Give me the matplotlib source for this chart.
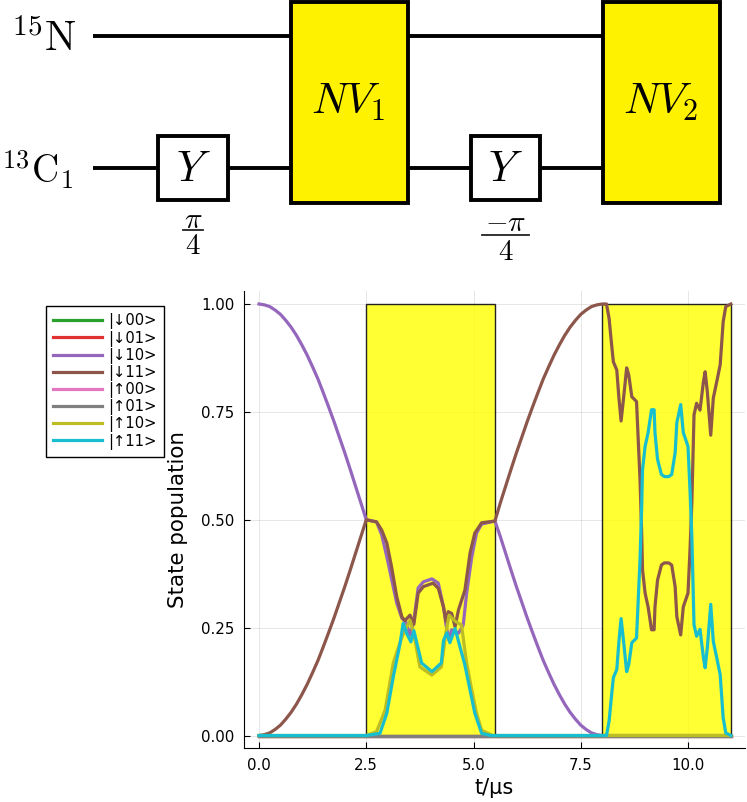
# -*- coding: utf-8 -*-
import matplotlib
matplotlib.use('Agg')
import matplotlib.pyplot as plt
from matplotlib.patches import Rectangle

#%% Values
t_edges = [0.0, 11.0]
zeros_edges = [0.0, 0.0]

t_rise = [0.0, 0.125, 0.25, 0.375, 0.5, 0.625, 0.75, 0.875, 1.0, 1.125, 1.25, 1.375, 1.5, 1.625, 1.75,
          1.875, 2.0, 2.125, 2.25, 2.375, 2.5]
purple_rise = [1.0, 0.998, 0.994, 0.986, 0.976, 0.962, 0.946, 0.927, 0.905, 0.881, 0.854, 0.826, 0.794,
               0.761, 0.727, 0.691, 0.655, 0.617, 0.578, 0.539, 0.5]
brown_rise = [0.0, 0.002, 0.006, 0.014, 0.024, 0.038, 0.054, 0.073, 0.095, 0.119, 0.146, 0.174, 0.206,
              0.239, 0.273, 0.309, 0.345, 0.383, 0.422, 0.461, 0.5]

t_brown_mid = [2.74, 2.86, 2.98, 3.09, 3.21, 3.33, 3.40, 3.52, 3.61, 3.71, 3.83, 4.06, 4.18,
               4.30, 4.36, 4.41, 4.49, 4.57, 4.65, 4.80, 4.92, 5.03, 5.19, 5.5]
brown_mid = [0.495, 0.476, 0.446, 0.391, 0.322, 0.275, 0.266, 0.279, 0.258, 0.33, 0.345, 0.353, 0.341,
             0.298, 0.264, 0.287, 0.283, 0.252, 0.291, 0.337, 0.423, 0.469, 0.493, 0.497]

t_purple_mid = [2.74, 2.86, 2.98, 3.21, 3.33, 3.43, 3.52, 3.60, 3.71, 3.83, 4.03, 4.18, 4.30,
                4.36, 4.43, 4.49, 4.65, 4.76, 4.84, 4.96, 5.07, 5.19, 5.5]
purple_mid = [0.495, 0.465, 0.414, 0.307, 0.272, 0.262, 0.233, 0.26, 0.342, 0.356, 0.363, 0.353, 0.298,
              0.256, 0.221, 0.245, 0.237, 0.256, 0.33, 0.414, 0.469, 0.49, 0.497]

t_fall = [5.625, 5.75, 5.875, 6.0, 6.125, 6.25, 6.375, 6.5, 6.625, 6.75, 6.875, 7.0, 7.125, 7.25, 7.375,
          7.5, 7.625, 7.75, 7.875, 8.0]
purple_fall = [0.461, 0.422, 0.383, 0.345, 0.309, 0.273, 0.239, 0.206, 0.174, 0.146, 0.119, 0.095, 0.073,
               0.054, 0.038, 0.024, 0.014, 0.006, 0.002, 0.0]
brown_fall = [0.539, 0.578, 0.617, 0.655, 0.691, 0.727, 0.761, 0.794, 0.826, 0.854, 0.881, 0.905, 0.927,
              0.946, 0.962, 0.976, 0.986, 0.994, 0.998, 1.0]

t_last = [8.10, 8.16, 8.22, 8.26, 8.34, 8.39, 8.44, 8.49, 8.57, 8.62, 8.69, 8.80, 8.84, 8.88, 8.92,
          8.94, 9.0, 9.07, 9.15, 9.21, 9.23, 9.29, 9.38, 9.45, 9.55, 9.62, 9.70, 9.74, 9.83, 9.89, 10.0,
          10.05, 10.09, 10.14, 10.2, 10.28, 10.36, 10.4, 10.45, 10.53, 10.59, 10.67, 10.75, 10.82, 10.88, 11.0]
brown_last = [1.0, 0.967, 0.905, 0.866, 0.847, 0.782, 0.729, 0.774, 0.852, 0.835, 0.785, 0.774, 0.685, 0.597, 0.47,
              0.384, 0.33, 0.298, 0.245, 0.245, 0.298, 0.36, 0.395, 0.4, 0.4, 0.395, 0.345, 0.275, 0.233, 0.298, 0.33,
              0.437, 0.54, 0.743, 0.77, 0.754, 0.82, 0.843, 0.797, 0.696, 0.782, 0.82, 0.859, 0.959, 0.994, 1.0]
cyan_last = [0.0, 0.033, 0.095, 0.134, 0.153, 0.218, 0.271, 0.226, 0.148, 0.165, 0.215, 0.226, 0.315, 0.403, 0.53,
             0.616, 0.67, 0.702, 0.755, 0.755, 0.702, 0.64, 0.605, 0.6, 0.6, 0.605, 0.655, 0.725, 0.767, 0.702, 0.67,
             0.563, 0.46, 0.257, 0.23, 0.246, 0.18, 0.157, 0.203, 0.304, 0.218, 0.18, 0.141, 0.041, 0.006, 0.0]

t_olive_mid = [2.5, 2.74, 2.94, 3.13, 3.33, 3.52, 3.60, 3.75, 4.03, 4.25, 4.36, 4.43, 4.57, 4.72,
               4.84, 4.96, 5.07, 5.19, 5.45, 8.0]
olive_mid = [0.0, 0.009, 0.059, 0.168, 0.228, 0.267, 0.24, 0.159, 0.14, 0.159, 0.24, 0.279, 0.265, 0.256,
             0.168, 0.105, 0.052, 0.012, 0.0, 0.0]

t_cyan_mid = [2.5, 2.82, 2.98, 3.13, 3.29, 3.36, 3.45, 3.54, 3.61, 3.79, 4.03, 4.25, 4.30, 4.38, 4.45,
              4.57, 4.80, 5.03, 5.19, 5.4, 8.0]
cyan_mid = [0.0, 0.005, 0.052, 0.136, 0.214, 0.26, 0.235, 0.217, 0.243, 0.168, 0.148, 0.168, 0.22, 0.238, 0.215,
            0.248, 0.163, 0.052, 0.005, 0.0, 0.0]

t_purple = t_rise + t_purple_mid + t_fall + [11.0]
purple = purple_rise + purple_mid + purple_fall + [0.0]
t_brown = t_rise + t_brown_mid + t_fall + t_last
brown = brown_rise + brown_mid + brown_fall + brown_last
t_olive = [0.0] + t_olive_mid + [11.0]
olive = [0.0] + olive_mid + [0.0]
t_cyan = [0.0] + t_cyan_mid + t_last
cyan = [0.0] + cyan_mid + cyan_last

labels = ['|↓00>', '|↓01>', '|↓10>', '|↓11>', '|↑00>', '|↑01>', '|↑10>', '|↑11>']
pulses = [(2.5, 5.5), (8.0, 11.0)]
x_ticks = [0.0, 2.5, 5.0, 7.5, 10.0]
x_ticklabels = ['0.0', '2.5', '5.0', '7.5', '10.0']
y_ticks = [0.0, 0.25, 0.5, 0.75, 1.0]
y_ticklabels = ['0.00', '0.25', '0.50', '0.75', '1.00']

#%% Figure
W, H = 747, 802
plt.rcParams['mathtext.fontset'] = 'cm'
fig = plt.figure(figsize=(W / 100, H / 100), dpi=100)

#%% Circuit on top, drawn in pixel coordinates
circ = fig.add_axes([0, 0, 1, 1])
circ.set_xlim(0, W)
circ.set_ylim(H, 0)
circ.axis('off')

LW = 2.8
circ.plot([93, 603], [36, 36], color='black', lw=LW, solid_capstyle='butt')
circ.plot([93, 603], [168, 168], color='black', lw=LW, solid_capstyle='butt')

for x0, x1, name in [(291, 408, '$NV_1$'), (603, 720, '$NV_2$')]:
    circ.add_patch(Rectangle((x0, 2), x1 - x0, 201, fc='#fff200', ec='black', lw=LW, zorder=3))
    circ.text((x0 + x1) / 2 - 1, 102, name, fontsize=31, ha='center', va='center', zorder=4)

for x0, x1 in [(158, 228), (471, 540)]:
    circ.add_patch(Rectangle((x0, 136), x1 - x0, 64, fc='white', ec='black', lw=LW, zorder=3))
    circ.text((x0 + x1) / 2, 169, '$Y$', fontsize=31, ha='center', va='center', zorder=4)

circ.text(77, 39, r'$^{15}\mathrm{N}$', fontsize=30, ha='right', va='center')
circ.text(73, 170, r'$^{13}\mathrm{C}_1$', fontsize=27, ha='right', va='center')

# gate angles, written as stacked fractions by hand to match the bar widths
circ.plot([183, 203], [230, 230], color='#222222', lw=1.3)
circ.text(193, 220, r'$\pi$', fontsize=21, ha='center', va='center')
circ.text(193, 246, r'$4$', fontsize=21, ha='center', va='center')
circ.plot([482, 529], [235, 235], color='#222222', lw=1.3)
circ.text(506, 223, r'$-\pi$', fontsize=21, ha='center', va='center')
circ.text(506, 252, r'$4$', fontsize=21, ha='center', va='center')

#%% Population plot
ax = fig.add_axes([244 / W, 1 - 748 / H, (745 - 244) / W, (748 - 291) / H])
ax.set_xlim((244 - 259) / 42.9, (745 - 259) / 42.9)
ax.set_ylim((735.5 - 748) / 431.5, (735.5 - 291) / 431.5)
ax.patch.set_alpha(0)

for t0, t1 in pulses:
    ax.add_patch(Rectangle((t0, 0), t1 - t0, 1, fc='#ffff00', alpha=0.8, ec='none', zorder=1))
    ax.add_patch(Rectangle((t0, 0), t1 - t0, 1, fc='none', ec='#222222', lw=1.0, zorder=1.5))

LINE = 2.3
ax.plot(t_edges, zeros_edges, color='#2ca02c', lw=LINE, label=labels[0], zorder=2)
ax.plot(t_edges, zeros_edges, color='#e03030', lw=LINE, label=labels[1], zorder=2)
ax.plot(t_purple, purple, color='#9467bd', lw=LINE, label=labels[2], zorder=2)
ax.plot(t_brown, brown, color='#8c564b', lw=LINE, label=labels[3], zorder=2)
ax.plot(t_edges, zeros_edges, color='#e377c2', lw=LINE, label=labels[4], zorder=2)
ax.plot(t_edges, zeros_edges, color='#7f7f7f', lw=LINE, label=labels[5], zorder=2)
ax.plot(t_olive, olive, color='#bcbd22', lw=LINE, label=labels[6], zorder=2)
ax.plot(t_cyan, cyan, color='#17becf', lw=LINE, label=labels[7], zorder=2)

ax.set_xticks(x_ticks, x_ticklabels)
ax.set_yticks(y_ticks, y_ticklabels)
ax.tick_params(direction='in', length=4, width=0.8, labelsize=10.8, pad=7)
ax.grid(True, color='black', alpha=0.1, lw=0.7)
ax.set_axisbelow(True)
ax.spines['top'].set_visible(False)
ax.spines['right'].set_visible(False)
ax.set_xlabel('t/μs', fontsize=15, labelpad=4)
ax.set_ylabel('State population', fontsize=15.4, labelpad=9)

leg = ax.legend(loc='upper left', bbox_to_anchor=(46 / W, 1 - 306 / H),
                bbox_transform=fig.transFigure, fontsize=10.6, fancybox=False,
                edgecolor='black', framealpha=1, borderaxespad=0, borderpad=0.5,
                handlelength=3.3, handletextpad=0.4, labelspacing=0.08)
leg.get_frame().set_linewidth(1.0)

fig.savefig('out.png', dpi=100)
